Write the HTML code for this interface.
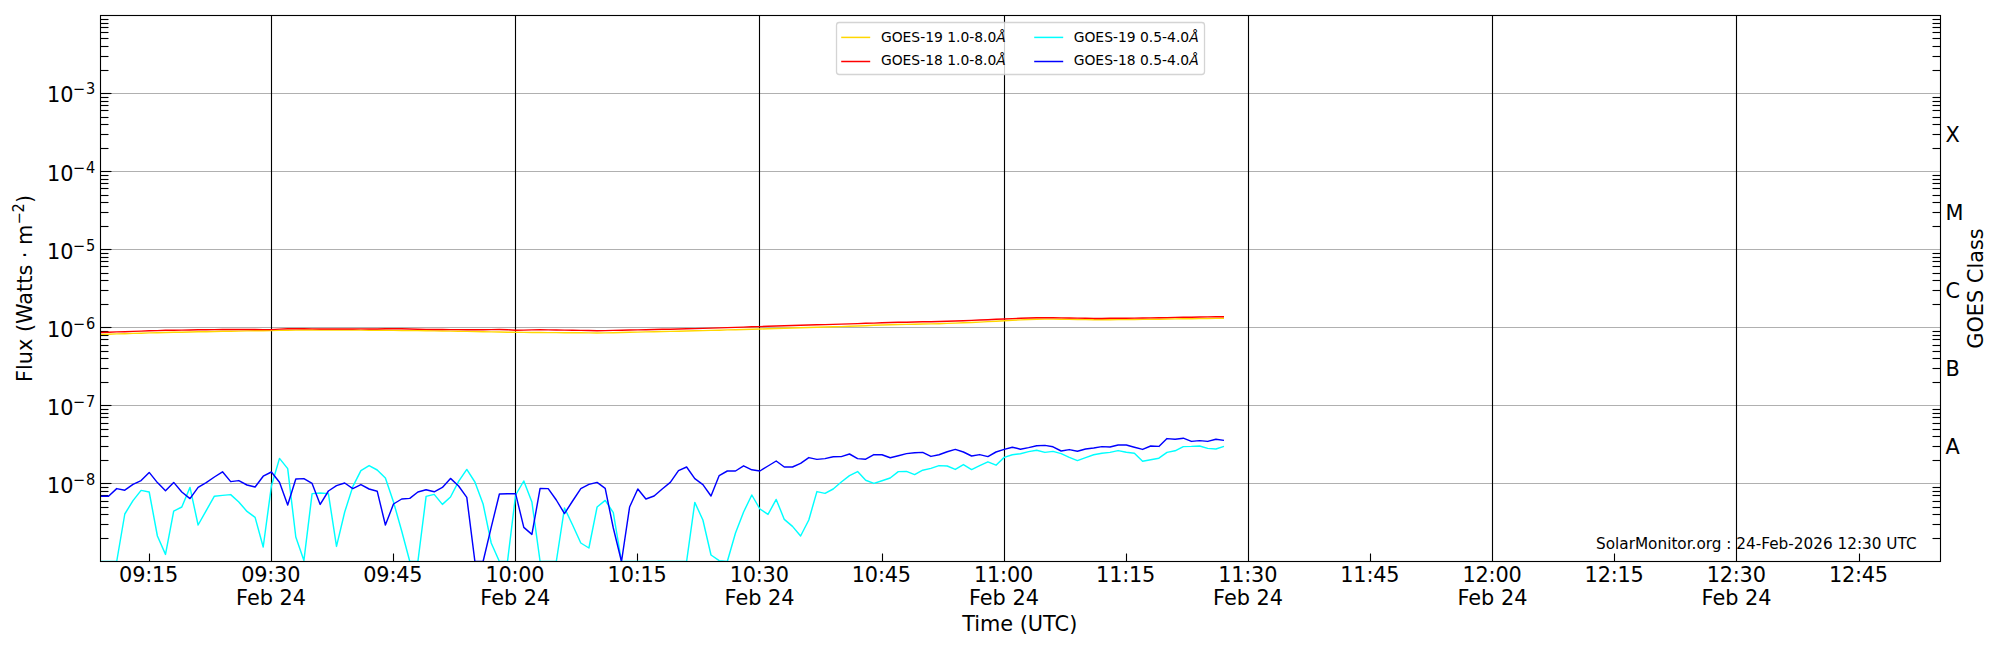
<!DOCTYPE html>
<html lang="en"><head><meta charset="utf-8"><title>GOES X-ray Flux</title>
<style>html,body{margin:0;padding:0;background:#fff}body{width:2000px;height:650px;overflow:hidden}svg{display:block}text{font-family:"DejaVu Sans","Liberation Sans",sans-serif;fill:#000}</style>
</head><body>
<svg width="2000" height="650" viewBox="0 0 2000 650">
<rect width="2000" height="650" fill="#fff"/>
<defs><clipPath id="ax"><rect x="100.5" y="15.5" width="1840.0" height="546.0"/></clipPath></defs>
<g stroke="#b0b0b0" stroke-width="1.11">
<line x1="100.5" x2="1940.5" y1="483.50" y2="483.50"/>
<line x1="100.5" x2="1940.5" y1="405.50" y2="405.50"/>
<line x1="100.5" x2="1940.5" y1="327.50" y2="327.50"/>
<line x1="100.5" x2="1940.5" y1="249.50" y2="249.50"/>
<line x1="100.5" x2="1940.5" y1="171.50" y2="171.50"/>
<line x1="100.5" x2="1940.5" y1="93.50" y2="93.50"/>
</g>
<g stroke="#000" stroke-width="1.11">
<line x1="271.50" x2="271.50" y1="15.5" y2="561.5"/>
<line x1="515.50" x2="515.50" y1="15.5" y2="561.5"/>
<line x1="759.50" x2="759.50" y1="15.5" y2="561.5"/>
<line x1="1004.50" x2="1004.50" y1="15.5" y2="561.5"/>
<line x1="1248.50" x2="1248.50" y1="15.5" y2="561.5"/>
<line x1="1492.50" x2="1492.50" y1="15.5" y2="561.5"/>
<line x1="1736.50" x2="1736.50" y1="15.5" y2="561.5"/>
</g>
<g stroke="#000" stroke-width="1.11">
<line x1="100.5" x2="111.5" y1="483.50" y2="483.50"/>
<line x1="100.5" x2="111.5" y1="405.50" y2="405.50"/>
<line x1="100.5" x2="111.5" y1="327.50" y2="327.50"/>
<line x1="100.5" x2="111.5" y1="249.50" y2="249.50"/>
<line x1="100.5" x2="111.5" y1="171.50" y2="171.50"/>
<line x1="100.5" x2="111.5" y1="93.50" y2="93.50"/>
<line x1="100.5" x2="108.5" y1="538.50" y2="538.50"/>
<line x1="1940.5" x2="1932.5" y1="538.50" y2="538.50"/>
<line x1="100.5" x2="108.5" y1="524.50" y2="524.50"/>
<line x1="1940.5" x2="1932.5" y1="524.50" y2="524.50"/>
<line x1="100.5" x2="108.5" y1="514.50" y2="514.50"/>
<line x1="1940.5" x2="1932.5" y1="514.50" y2="514.50"/>
<line x1="100.5" x2="108.5" y1="507.50" y2="507.50"/>
<line x1="1940.5" x2="1932.5" y1="507.50" y2="507.50"/>
<line x1="100.5" x2="108.5" y1="501.50" y2="501.50"/>
<line x1="1940.5" x2="1932.5" y1="501.50" y2="501.50"/>
<line x1="100.5" x2="108.5" y1="495.50" y2="495.50"/>
<line x1="1940.5" x2="1932.5" y1="495.50" y2="495.50"/>
<line x1="100.5" x2="108.5" y1="491.50" y2="491.50"/>
<line x1="1940.5" x2="1932.5" y1="491.50" y2="491.50"/>
<line x1="100.5" x2="108.5" y1="487.50" y2="487.50"/>
<line x1="1940.5" x2="1932.5" y1="487.50" y2="487.50"/>
<line x1="100.5" x2="108.5" y1="460.50" y2="460.50"/>
<line x1="1940.5" x2="1932.5" y1="460.50" y2="460.50"/>
<line x1="100.5" x2="108.5" y1="446.50" y2="446.50"/>
<line x1="1940.5" x2="1932.5" y1="446.50" y2="446.50"/>
<line x1="100.5" x2="108.5" y1="436.50" y2="436.50"/>
<line x1="1940.5" x2="1932.5" y1="436.50" y2="436.50"/>
<line x1="100.5" x2="108.5" y1="429.50" y2="429.50"/>
<line x1="1940.5" x2="1932.5" y1="429.50" y2="429.50"/>
<line x1="100.5" x2="108.5" y1="423.50" y2="423.50"/>
<line x1="1940.5" x2="1932.5" y1="423.50" y2="423.50"/>
<line x1="100.5" x2="108.5" y1="417.50" y2="417.50"/>
<line x1="1940.5" x2="1932.5" y1="417.50" y2="417.50"/>
<line x1="100.5" x2="108.5" y1="413.50" y2="413.50"/>
<line x1="1940.5" x2="1932.5" y1="413.50" y2="413.50"/>
<line x1="100.5" x2="108.5" y1="409.50" y2="409.50"/>
<line x1="1940.5" x2="1932.5" y1="409.50" y2="409.50"/>
<line x1="100.5" x2="108.5" y1="382.50" y2="382.50"/>
<line x1="1940.5" x2="1932.5" y1="382.50" y2="382.50"/>
<line x1="100.5" x2="108.5" y1="368.50" y2="368.50"/>
<line x1="1940.5" x2="1932.5" y1="368.50" y2="368.50"/>
<line x1="100.5" x2="108.5" y1="358.50" y2="358.50"/>
<line x1="1940.5" x2="1932.5" y1="358.50" y2="358.50"/>
<line x1="100.5" x2="108.5" y1="351.50" y2="351.50"/>
<line x1="1940.5" x2="1932.5" y1="351.50" y2="351.50"/>
<line x1="100.5" x2="108.5" y1="345.50" y2="345.50"/>
<line x1="1940.5" x2="1932.5" y1="345.50" y2="345.50"/>
<line x1="100.5" x2="108.5" y1="339.50" y2="339.50"/>
<line x1="1940.5" x2="1932.5" y1="339.50" y2="339.50"/>
<line x1="100.5" x2="108.5" y1="335.50" y2="335.50"/>
<line x1="1940.5" x2="1932.5" y1="335.50" y2="335.50"/>
<line x1="100.5" x2="108.5" y1="331.50" y2="331.50"/>
<line x1="1940.5" x2="1932.5" y1="331.50" y2="331.50"/>
<line x1="100.5" x2="108.5" y1="304.50" y2="304.50"/>
<line x1="1940.5" x2="1932.5" y1="304.50" y2="304.50"/>
<line x1="100.5" x2="108.5" y1="290.50" y2="290.50"/>
<line x1="1940.5" x2="1932.5" y1="290.50" y2="290.50"/>
<line x1="100.5" x2="108.5" y1="280.50" y2="280.50"/>
<line x1="1940.5" x2="1932.5" y1="280.50" y2="280.50"/>
<line x1="100.5" x2="108.5" y1="273.50" y2="273.50"/>
<line x1="1940.5" x2="1932.5" y1="273.50" y2="273.50"/>
<line x1="100.5" x2="108.5" y1="266.50" y2="266.50"/>
<line x1="1940.5" x2="1932.5" y1="266.50" y2="266.50"/>
<line x1="100.5" x2="108.5" y1="261.50" y2="261.50"/>
<line x1="1940.5" x2="1932.5" y1="261.50" y2="261.50"/>
<line x1="100.5" x2="108.5" y1="257.50" y2="257.50"/>
<line x1="1940.5" x2="1932.5" y1="257.50" y2="257.50"/>
<line x1="100.5" x2="108.5" y1="253.50" y2="253.50"/>
<line x1="1940.5" x2="1932.5" y1="253.50" y2="253.50"/>
<line x1="100.5" x2="108.5" y1="226.50" y2="226.50"/>
<line x1="1940.5" x2="1932.5" y1="226.50" y2="226.50"/>
<line x1="100.5" x2="108.5" y1="212.50" y2="212.50"/>
<line x1="1940.5" x2="1932.5" y1="212.50" y2="212.50"/>
<line x1="100.5" x2="108.5" y1="202.50" y2="202.50"/>
<line x1="1940.5" x2="1932.5" y1="202.50" y2="202.50"/>
<line x1="100.5" x2="108.5" y1="195.50" y2="195.50"/>
<line x1="1940.5" x2="1932.5" y1="195.50" y2="195.50"/>
<line x1="100.5" x2="108.5" y1="188.50" y2="188.50"/>
<line x1="1940.5" x2="1932.5" y1="188.50" y2="188.50"/>
<line x1="100.5" x2="108.5" y1="183.50" y2="183.50"/>
<line x1="1940.5" x2="1932.5" y1="183.50" y2="183.50"/>
<line x1="100.5" x2="108.5" y1="179.50" y2="179.50"/>
<line x1="1940.5" x2="1932.5" y1="179.50" y2="179.50"/>
<line x1="100.5" x2="108.5" y1="175.50" y2="175.50"/>
<line x1="1940.5" x2="1932.5" y1="175.50" y2="175.50"/>
<line x1="100.5" x2="108.5" y1="148.50" y2="148.50"/>
<line x1="1940.5" x2="1932.5" y1="148.50" y2="148.50"/>
<line x1="100.5" x2="108.5" y1="134.50" y2="134.50"/>
<line x1="1940.5" x2="1932.5" y1="134.50" y2="134.50"/>
<line x1="100.5" x2="108.5" y1="124.50" y2="124.50"/>
<line x1="1940.5" x2="1932.5" y1="124.50" y2="124.50"/>
<line x1="100.5" x2="108.5" y1="117.50" y2="117.50"/>
<line x1="1940.5" x2="1932.5" y1="117.50" y2="117.50"/>
<line x1="100.5" x2="108.5" y1="110.50" y2="110.50"/>
<line x1="1940.5" x2="1932.5" y1="110.50" y2="110.50"/>
<line x1="100.5" x2="108.5" y1="105.50" y2="105.50"/>
<line x1="1940.5" x2="1932.5" y1="105.50" y2="105.50"/>
<line x1="100.5" x2="108.5" y1="101.50" y2="101.50"/>
<line x1="1940.5" x2="1932.5" y1="101.50" y2="101.50"/>
<line x1="100.5" x2="108.5" y1="97.50" y2="97.50"/>
<line x1="1940.5" x2="1932.5" y1="97.50" y2="97.50"/>
<line x1="100.5" x2="108.5" y1="70.50" y2="70.50"/>
<line x1="1940.5" x2="1932.5" y1="70.50" y2="70.50"/>
<line x1="100.5" x2="108.5" y1="56.50" y2="56.50"/>
<line x1="1940.5" x2="1932.5" y1="56.50" y2="56.50"/>
<line x1="100.5" x2="108.5" y1="46.50" y2="46.50"/>
<line x1="1940.5" x2="1932.5" y1="46.50" y2="46.50"/>
<line x1="100.5" x2="108.5" y1="38.50" y2="38.50"/>
<line x1="1940.5" x2="1932.5" y1="38.50" y2="38.50"/>
<line x1="100.5" x2="108.5" y1="32.50" y2="32.50"/>
<line x1="1940.5" x2="1932.5" y1="32.50" y2="32.50"/>
<line x1="100.5" x2="108.5" y1="27.50" y2="27.50"/>
<line x1="1940.5" x2="1932.5" y1="27.50" y2="27.50"/>
<line x1="100.5" x2="108.5" y1="23.50" y2="23.50"/>
<line x1="1940.5" x2="1932.5" y1="23.50" y2="23.50"/>
<line x1="100.5" x2="108.5" y1="19.50" y2="19.50"/>
<line x1="1940.5" x2="1932.5" y1="19.50" y2="19.50"/>
<line x1="149.50" x2="149.50" y1="561.5" y2="553.5"/>
<line x1="393.50" x2="393.50" y1="561.5" y2="553.5"/>
<line x1="637.50" x2="637.50" y1="561.5" y2="553.5"/>
<line x1="882.50" x2="882.50" y1="561.5" y2="553.5"/>
<line x1="1126.50" x2="1126.50" y1="561.5" y2="553.5"/>
<line x1="1370.50" x2="1370.50" y1="561.5" y2="553.5"/>
<line x1="1614.50" x2="1614.50" y1="561.5" y2="553.5"/>
<line x1="1859.50" x2="1859.50" y1="561.5" y2="553.5"/>
</g>
<g clip-path="url(#ax)">
<polyline points="100.4,334.4 108.5,334.2 116.7,333.9 124.8,333.7 133.0,333.4 141.1,333.2 149.2,332.9 157.4,332.7 165.5,332.5 173.7,332.3 181.8,332.2 190.0,332.0 198.1,331.8 206.2,331.7 214.4,331.5 222.5,331.3 230.7,331.2 238.8,331.1 247.0,330.9 255.1,330.8 263.2,330.7 271.4,330.5 279.5,330.4 287.7,330.3 295.8,330.1 303.9,330.0 312.1,330.0 320.2,330.0 328.4,330.0 336.5,330.0 344.7,330.0 352.8,330.0 360.9,330.1 369.1,330.2 377.2,330.3 385.4,330.3 393.5,330.4 401.7,330.5 409.8,330.6 417.9,330.6 426.1,330.7 434.2,330.9 442.4,331.0 450.5,331.1 458.6,331.3 466.8,331.4 474.9,331.5 483.1,331.7 491.2,331.9 499.4,332.0 507.5,332.2 515.6,332.3 523.8,332.4 531.9,332.4 540.1,332.5 548.2,332.6 556.3,332.6 564.5,332.7 572.6,332.8 580.8,332.8 588.9,332.9 597.1,333.0 605.2,332.9 613.3,332.7 621.5,332.5 629.6,332.3 637.8,332.1 645.9,331.9 654.1,331.7 662.2,331.5 670.3,331.4 678.5,331.2 686.6,331.0 694.8,330.8 702.9,330.6 711.0,330.4 719.2,330.2 727.3,329.9 735.5,329.7 743.6,329.5 751.8,329.3 759.9,329.0 768.0,328.8 776.2,328.5 784.3,328.3 792.5,328.0 800.6,327.8 808.8,327.5 816.9,327.3 825.0,327.0 833.2,326.8 841.3,326.6 849.5,326.3 857.6,326.0 865.7,325.7 873.9,325.3 882.0,325.0 890.2,324.7 898.3,324.5 906.5,324.4 914.6,324.2 922.7,324.0 930.9,323.9 939.0,323.7 947.2,323.4 955.3,323.1 963.4,322.8 971.6,322.5 979.7,322.1 987.9,321.6 996.0,321.2 1004.2,320.7 1012.3,320.3 1020.4,319.9 1028.6,319.5 1036.7,319.3 1044.9,319.1 1053.0,319.1 1061.2,319.2 1069.3,319.3 1077.4,319.5 1085.6,319.6 1093.7,319.7 1101.9,319.8 1110.0,319.7 1118.1,319.6 1126.3,319.5 1134.4,319.5 1142.6,319.4 1150.7,319.3 1158.9,319.2 1167.0,319.0 1175.1,318.9 1183.3,318.8 1191.4,318.7 1199.6,318.6 1207.7,318.5 1215.9,318.4 1224.0,318.3" fill="none" stroke="#ffd700" stroke-width="1.45" stroke-linejoin="round" stroke-linecap="butt"/>
<polyline points="100.4,332.5 108.5,332.2 116.7,331.9 124.8,331.7 133.0,331.4 141.1,331.1 149.2,330.8 157.4,330.6 165.5,330.3 173.7,330.2 181.8,330.1 190.0,330.0 198.1,329.8 206.2,329.7 214.4,329.6 222.5,329.4 230.7,329.4 238.8,329.5 247.0,329.5 255.1,329.5 263.2,329.6 271.4,329.6 279.5,329.1 287.7,328.8 295.8,328.8 303.9,328.8 312.1,328.9 320.2,328.9 328.4,328.9 336.5,328.9 344.7,329.0 352.8,329.0 360.9,328.9 369.1,328.9 377.2,328.9 385.4,328.8 393.5,328.8 401.7,328.8 409.8,329.0 417.9,329.2 426.1,329.4 434.2,329.5 442.4,329.5 450.5,329.6 458.6,329.6 466.8,329.7 474.9,329.7 483.1,329.7 491.2,329.6 499.4,329.5 507.5,329.7 515.6,330.2 523.8,330.1 531.9,329.9 540.1,329.8 548.2,329.9 556.3,330.0 564.5,330.1 572.6,330.3 580.8,330.4 588.9,330.5 597.1,330.7 605.2,330.6 613.3,330.4 621.5,330.2 629.6,330.0 637.8,329.9 645.9,329.7 654.1,329.5 662.2,329.3 670.3,329.2 678.5,329.0 686.6,328.8 694.8,328.6 702.9,328.4 711.0,328.1 719.2,327.9 727.3,327.6 735.5,327.4 743.6,327.1 751.8,326.8 759.9,326.6 768.0,326.3 776.2,326.0 784.3,325.8 792.5,325.5 800.6,325.2 808.8,325.0 816.9,324.8 825.0,324.6 833.2,324.4 841.3,324.1 849.5,323.9 857.6,323.6 865.7,323.3 873.9,323.1 882.0,322.8 890.2,322.5 898.3,322.3 906.5,322.2 914.6,322.0 922.7,321.8 930.9,321.7 939.0,321.5 947.2,321.2 955.3,321.0 963.4,320.7 971.6,320.4 979.7,320.0 987.9,319.7 996.0,319.3 1004.2,319.0 1012.3,318.6 1020.4,318.3 1028.6,318.0 1036.7,317.8 1044.9,317.8 1053.0,317.8 1061.2,317.9 1069.3,318.0 1077.4,318.1 1085.6,318.2 1093.7,318.4 1101.9,318.4 1110.0,318.3 1118.1,318.3 1126.3,318.2 1134.4,318.1 1142.6,318.0 1150.7,317.9 1158.9,317.7 1167.0,317.6 1175.1,317.4 1183.3,317.3 1191.4,317.2 1199.6,317.0 1207.7,316.9 1215.9,316.8 1224.0,316.8" fill="none" stroke="#ff0000" stroke-width="1.45" stroke-linejoin="round" stroke-linecap="butt"/>
<polyline points="100.4,561.5 108.5,561.5 116.7,561.5 124.8,514.0 133.0,500.6 141.1,490.4 149.2,492.0 157.4,536.0 165.5,554.4 173.7,511.2 181.8,507.0 190.0,487.4 198.1,525.0 206.2,510.6 214.4,496.2 222.5,495.4 230.7,494.6 238.8,502.0 247.0,511.4 255.1,517.4 263.2,547.0 271.4,486.0 279.5,458.4 287.7,468.6 295.8,537.0 303.9,560.6 312.1,493.6 320.2,493.0 328.4,493.6 336.5,546.4 344.7,512.0 352.8,486.6 360.9,470.6 369.1,465.6 377.2,470.0 385.4,478.0 393.5,502.0 401.7,531.0 409.8,561.5 417.9,561.5 426.1,496.4 434.2,494.4 442.4,504.4 450.5,497.0 458.6,481.4 466.8,469.4 474.9,482.0 483.1,504.0 491.2,543.0 499.4,561.5 507.5,561.5 515.6,495.0 523.8,481.0 531.9,502.0 540.1,561.5 548.2,561.5 556.3,561.5 564.5,508.0 572.6,525.0 580.8,543.0 588.9,548.0 597.1,507.0 605.2,500.4 613.3,512.6 621.5,561.5 629.6,561.5 637.8,561.5 645.9,561.5 654.1,561.5 662.2,561.5 670.3,561.5 678.5,561.5 686.6,561.5 694.8,502.4 702.9,520.0 711.0,555.0 719.2,560.6 727.3,561.5 735.5,533.0 743.6,512.0 751.8,495.0 759.9,509.0 768.0,514.4 776.2,499.4 784.3,519.4 792.5,526.4 800.6,536.0 808.8,520.0 816.9,491.6 825.0,493.4 833.2,489.0 841.3,482.0 849.5,475.6 857.6,471.6 865.7,480.2 873.9,483.4 882.0,480.8 890.2,478.0 898.3,471.6 906.5,471.4 914.6,474.6 922.7,470.2 930.9,468.4 939.0,465.6 947.2,466.0 955.3,469.4 963.4,464.6 971.6,469.6 979.7,465.6 987.9,461.8 996.0,465.2 1004.2,457.4 1012.3,454.8 1020.4,453.8 1028.6,451.6 1036.7,450.2 1044.9,452.4 1053.0,451.4 1061.2,453.6 1069.3,457.4 1077.4,460.6 1085.6,457.6 1093.7,454.8 1101.9,453.2 1110.0,452.4 1118.1,450.6 1126.3,452.2 1134.4,453.2 1142.6,461.2 1150.7,459.8 1158.9,458.2 1167.0,452.4 1175.1,450.8 1183.3,446.6 1191.4,446.4 1199.6,446.0 1207.7,448.4 1215.9,449.0 1224.0,446.4" fill="none" stroke="#00ffff" stroke-width="1.45" stroke-linejoin="round" stroke-linecap="butt"/>
<polyline points="100.4,496.2 108.5,496.2 116.7,488.6 124.8,490.2 133.0,484.4 141.1,480.6 149.2,472.4 157.4,482.6 165.5,490.8 173.7,482.4 181.8,492.0 190.0,498.6 198.1,487.4 206.2,482.6 214.4,477.0 222.5,471.8 230.7,481.6 238.8,480.6 247.0,485.0 255.1,487.0 263.2,476.2 271.4,472.0 279.5,482.2 287.7,505.0 295.8,479.0 303.9,478.6 312.1,483.4 320.2,504.4 328.4,491.0 336.5,485.6 344.7,483.0 352.8,488.6 360.9,484.6 369.1,489.0 377.2,491.2 385.4,525.0 393.5,504.0 401.7,499.0 409.8,498.4 417.9,492.0 426.1,489.8 434.2,491.8 442.4,487.4 450.5,478.4 458.6,486.0 466.8,497.4 474.9,561.5 483.1,561.5 491.2,527.4 499.4,494.0 507.5,493.8 515.6,493.6 523.8,527.4 531.9,534.4 540.1,488.4 548.2,488.6 556.3,500.0 564.5,513.6 572.6,501.0 580.8,488.6 588.9,484.4 597.1,482.4 605.2,488.4 613.3,528.0 621.5,561.5 629.6,507.0 637.8,489.0 645.9,499.0 654.1,496.0 662.2,489.0 670.3,482.4 678.5,470.6 686.6,467.0 694.8,478.6 702.9,484.6 711.0,496.0 719.2,475.6 727.3,471.0 735.5,471.0 743.6,465.8 751.8,469.8 759.9,471.0 768.0,466.0 776.2,461.0 784.3,467.0 792.5,467.0 800.6,463.4 808.8,457.6 816.9,459.4 825.0,458.6 833.2,456.8 841.3,456.6 849.5,454.0 857.6,458.6 865.7,459.2 873.9,454.6 882.0,454.8 890.2,457.8 898.3,455.8 906.5,453.6 914.6,452.8 922.7,452.4 930.9,456.4 939.0,454.8 947.2,451.8 955.3,449.4 963.4,452.0 971.6,456.0 979.7,454.6 987.9,456.6 996.0,452.0 1004.2,449.4 1012.3,447.2 1020.4,449.2 1028.6,447.6 1036.7,445.8 1044.9,445.4 1053.0,446.8 1061.2,451.0 1069.3,449.6 1077.4,451.2 1085.6,449.0 1093.7,448.0 1101.9,446.6 1110.0,447.0 1118.1,445.0 1126.3,445.0 1134.4,447.2 1142.6,449.4 1150.7,446.0 1158.9,446.4 1167.0,438.6 1175.1,439.2 1183.3,438.2 1191.4,441.4 1199.6,440.6 1207.7,441.4 1215.9,439.2 1224.0,440.4" fill="none" stroke="#0000ff" stroke-width="1.45" stroke-linejoin="round" stroke-linecap="butt"/>
</g>
<rect x="100.5" y="15.5" width="1840.0" height="546.0" fill="none" stroke="#000" stroke-width="1.11"/>
<g font-size="20.83" text-anchor="end">
<text x="73.4" y="492.9">10</text>
<text x="85.0" y="485.0" font-size="14.58">−</text>
<text transform="translate(95.3,485.0) scale(1,1.1)" font-size="14.58">8</text>
<text x="73.4" y="414.9">10</text>
<text x="85.0" y="407.0" font-size="14.58">−</text>
<text transform="translate(95.3,407.0) scale(1,1.1)" font-size="14.58">7</text>
<text x="73.4" y="336.9">10</text>
<text x="85.0" y="329.0" font-size="14.58">−</text>
<text transform="translate(95.3,329.0) scale(1,1.1)" font-size="14.58">6</text>
<text x="73.4" y="258.9">10</text>
<text x="85.0" y="251.0" font-size="14.58">−</text>
<text transform="translate(95.3,251.0) scale(1,1.1)" font-size="14.58">5</text>
<text x="73.4" y="180.9">10</text>
<text x="85.0" y="173.0" font-size="14.58">−</text>
<text transform="translate(95.3,173.0) scale(1,1.1)" font-size="14.58">4</text>
<text x="73.4" y="101.9">10</text>
<text x="85.0" y="94.0" font-size="14.58">−</text>
<text transform="translate(95.3,94.0) scale(1,1.1)" font-size="14.58">3</text>
</g>
<g font-size="20.83" text-anchor="middle">
<text x="148.6" y="581.8" letter-spacing="-0.2">09:15</text>
<text x="392.8" y="581.8" letter-spacing="-0.2">09:45</text>
<text x="637.1" y="581.8" letter-spacing="-0.2">10:15</text>
<text x="881.3" y="581.8" letter-spacing="-0.2">10:45</text>
<text x="1125.6" y="581.8" letter-spacing="-0.2">11:15</text>
<text x="1369.8" y="581.8" letter-spacing="-0.2">11:45</text>
<text x="1614.1" y="581.8" letter-spacing="-0.2">12:15</text>
<text x="1858.4" y="581.8" letter-spacing="-0.2">12:45</text>
<text x="270.7" y="581.8" letter-spacing="-0.2">09:30</text>
<text x="271.1" y="604.8">Feb 24</text>
<text x="514.9" y="581.8" letter-spacing="-0.2">10:00</text>
<text x="515.3" y="604.8">Feb 24</text>
<text x="759.2" y="581.8" letter-spacing="-0.2">10:30</text>
<text x="759.6" y="604.8">Feb 24</text>
<text x="1003.5" y="581.8" letter-spacing="-0.2">11:00</text>
<text x="1003.9" y="604.8">Feb 24</text>
<text x="1247.7" y="581.8" letter-spacing="-0.2">11:30</text>
<text x="1248.1" y="604.8">Feb 24</text>
<text x="1492.0" y="581.8" letter-spacing="-0.2">12:00</text>
<text x="1492.4" y="604.8">Feb 24</text>
<text x="1736.2" y="581.8" letter-spacing="-0.2">12:30</text>
<text x="1736.6" y="604.8">Feb 24</text>
<text x="1019.7" y="631">Time (UTC)</text>
<g transform="translate(32.1,288.5) rotate(-90)" text-anchor="start">
<text x="-93.5" y="0">Flux (Watts · m</text>
<text x="63.9" y="-7.9" font-size="14.58">−</text>
<text transform="translate(76.1,-7.9) scale(1,1.1)" font-size="14.58">2</text>
<text x="85.4" y="0">)</text>
</g>
<text transform="translate(1982.6,288.5) rotate(-90)">GOES Class</text>
</g>
<g font-size="20.83">
<text x="1945.4" y="453.6">A</text>
<text x="1945.4" y="375.6">B</text>
<text x="1945.4" y="297.6">C</text>
<text x="1945.4" y="219.6">M</text>
<text x="1945.4" y="141.6">X</text>
</g>
<text x="1916.6" y="548.9" font-size="15.28" text-anchor="end">SolarMonitor.org : 24-Feb-2026 12:30 UTC</text>
<rect x="836.5" y="22.5" width="368" height="52" rx="2.8" ry="2.8" fill="#fff" fill-opacity="0.8" stroke="#ccc" stroke-opacity="0.85" stroke-width="1.3"/>
<g stroke-width="1.5">
<line x1="841.2" x2="870.2" y1="37.4" y2="37.4" stroke="#ffd700"/>
<line x1="841.2" x2="870.2" y1="61.5" y2="61.5" stroke="#ff0000"/>
<line x1="1034.2" x2="1063.2" y1="37.4" y2="37.4" stroke="#00ffff"/>
<line x1="1034.2" x2="1063.2" y1="61.5" y2="61.5" stroke="#0000ff"/>
</g>
<g font-size="13.89">
<text x="880.9" y="42.2">GOES-19 1.0-8.0<tspan font-style="italic">Å</tspan></text>
<text x="880.9" y="65.2">GOES-18 1.0-8.0<tspan font-style="italic">Å</tspan></text>
<text x="1073.7" y="42.2">GOES-19 0.5-4.0<tspan font-style="italic">Å</tspan></text>
<text x="1073.7" y="65.2">GOES-18 0.5-4.0<tspan font-style="italic">Å</tspan></text>
</g>
</svg></body></html>
